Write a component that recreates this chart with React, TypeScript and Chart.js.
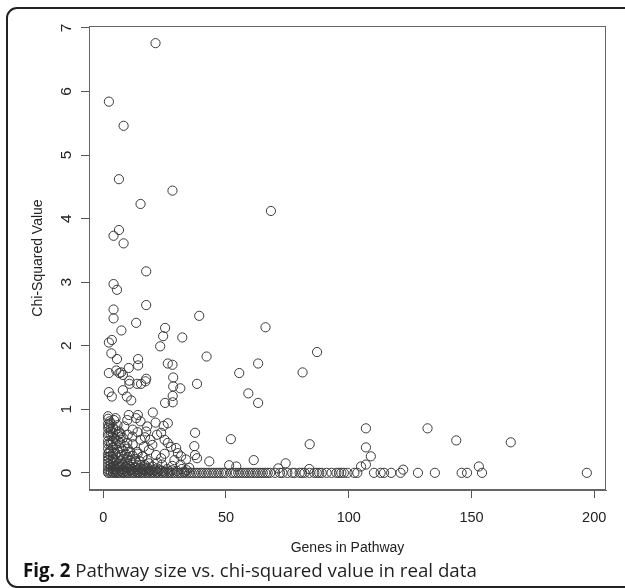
import React, { useEffect, useRef } from "react";
import { Chart, registerables } from "chart.js";

Chart.register(...registerables);

// [genes in pathway, chi-squared value]
const upperPoints: [number, number][] = [
  [21.3, 6.76], [2.3, 5.84], [8.3, 5.46], [6.4, 4.62], [28.2, 4.44], [15.2, 4.23], [68.3, 4.12],
  [6.4, 3.82], [4.2, 3.73], [8.3, 3.61], [17.5, 3.17], [4.2, 2.97], [5.6, 2.88], [4.2, 2.57],
  [17.5, 2.64], [4.2, 2.43], [39.1, 2.47], [13.4, 2.36], [66.1, 2.29], [25.2, 2.28], [7.4, 2.24],
  [24.4, 2.15], [32.2, 2.13], [3.5, 2.09], [2.3, 2.05], [23.2, 1.99], [87.1, 1.9], [3.3, 1.88],
  [42.1, 1.83], [5.6, 1.79], [14.2, 1.79], [26.3, 1.72], [63.1, 1.72], [28.2, 1.7], [14.2, 1.69],
  [10.4, 1.65], [5.3, 1.61], [81.2, 1.58], [7.3, 1.58], [2.3, 1.57], [55.4, 1.57], [8, 1.54],
  [28.5, 1.5], [17.5, 1.48], [10.6, 1.45], [17.2, 1.44], [10.7, 1.4], [13.8, 1.4], [15.4, 1.4],
  [38.2, 1.4], [28.5, 1.36], [31.4, 1.33], [8, 1.3], [2.3, 1.27], [59.1, 1.25], [28.3, 1.21],
  [3.5, 1.2], [9.6, 1.2], [11.4, 1.14], [25.2, 1.1], [28.3, 1.11], [63.1, 1.1], [6.6, 1.57],
];

const sparsePoints: [number, number][] = [
  [107, 0.7], [132.1, 0.7], [143.8, 0.51], [166, 0.48], [84.1, 0.45], [107, 0.4], [109, 0.26],
  [61.3, 0.2], [74.3, 0.15], [37.4, 0.63], [52, 0.53], [37.1, 0.42], [37.4, 0.28], [38.2, 0.23],
  [43.2, 0.18], [153, 0.1], [105, 0.1], [107, 0.13], [122.2, 0.05], [71.3, 0.07], [83.9, 0.06],
  [51.3, 0.12], [54.2, 0.1],
];

const clusterPoints: [number, number][] = [
  [20.2, 0.95], [14.1, 0.91], [13.4, 0.86], [21.3, 0.79], [26.3, 0.78], [24.6, 0.74], [17.5, 0.65],
  [12, 0.68], [8.6, 0.73], [15.2, 0.52], [19.2, 0.52], [21.9, 0.6], [26.3, 0.47], [27.6, 0.41],
  [29.7, 0.39], [30.4, 0.31], [31.7, 0.26], [33.7, 0.21], [21.5, 0.28], [23.6, 0.23], [16.5, 0.41],
  [13.8, 0.33], [9.8, 0.47], [7.1, 0.39], [11.9, 0.57], [7.1, 0.57], [4.4, 0.55], [3.1, 0.44],
  [2.4, 0.33], [3.8, 0.21], [2, 0.89], [2.6, 0.81], [2.2, 0.73], [3, 0.65], [4.4, 0.83], [5.8, 0.75],
  [6.4, 0.65], [9.8, 0.83], [10.4, 0.91], [15.2, 0.81], [17.9, 0.73], [23.6, 0.63], [25, 0.52],
  [18.6, 0.36], [16, 0.26], [13.3, 0.18], [9.8, 0.21], [7.8, 0.15], [18.6, 0.15], [24, 0.13],
  [28.1, 0.11], [31.5, 0.13], [16.5, 0.1], [21.9, 0.07],
  [2, 0.02], [2, 0.05], [2, 0.1], [2, 0.15], [2, 0.2], [2, 0.25], [2, 0.3], [2, 0.38], [2, 0.45],
  [2, 0.5], [2, 0.58], [2, 0.62], [2, 0.7], [2, 0.77], [2, 0.85], [3, 0.03], [3, 0.08], [3, 0.12],
  [3, 0.18], [3, 0.27], [3, 0.35], [3, 0.48], [3, 0.6], [3, 0.69], [3, 0.78], [4, 0.02], [4, 0.06],
  [4, 0.1], [4, 0.16], [4, 0.25], [4, 0.31], [4, 0.4], [4, 0.5], [4, 0.62], [4, 0.71], [5, 0.01],
  [5, 0.05], [5, 0.11], [5, 0.2], [5, 0.3], [5, 0.45], [5, 0.53], [5, 0.67], [5, 0.86], [6, 0.02],
  [6, 0.08], [6, 0.14], [6, 0.24], [6, 0.33], [6, 0.5], [6, 0.6], [7, 0.03], [7, 0.1], [7, 0.18],
  [7, 0.28], [7, 0.47], [7, 0.62], [8, 0.01], [8, 0.05], [8, 0.12], [8, 0.22], [8, 0.35], [8, 0.55],
  [9, 0.03], [9, 0.09], [9, 0.17], [9, 0.3], [9, 0.42], [10, 0.02], [10, 0.07], [10, 0.14],
  [10, 0.25], [10, 0.38], [10, 0.6], [11, 0.04], [11, 0.1], [11, 0.2], [11, 0.33], [12, 0.02],
  [12, 0.06], [12, 0.16], [12, 0.27], [12, 0.45], [13, 0.03], [13, 0.09], [13, 0.22], [14, 0.01],
  [14, 0.05], [14, 0.12], [14, 0.3], [14, 0.64], [15, 0.03], [15, 0.08], [15, 0.18], [16, 0.02],
  [16, 0.06], [16, 0.26], [17, 0.04], [17, 0.12], [17, 0.56], [18, 0.02], [18, 0.08], [18, 0.2],
  [19, 0.03], [19, 0.05], [20, 0.02], [20, 0.1], [20, 0.44], [21, 0.04], [22, 0.02], [22, 0.16],
  [23, 0.05], [24, 0.03], [25, 0.02], [25, 0.3], [26, 0.06], [27, 0.02], [28, 0.04], [29, 0.2],
  [30, 0.03], [32, 0.06], [33, 0.02], [34, 0.04], [35, 0.08],
];

const zeroRowGenes: number[] = [
  2, 3, 4, 5, 6, 7, 8, 9, 10, 11, 12, 13, 14, 15, 16, 17, 18, 19, 20, 21, 22, 23, 24, 25, 26, 27,
  28, 29, 30, 31, 32, 33, 34, 35, 36, 37, 38, 39, 40, 41, 42, 43, 44, 45, 46, 47, 48, 49, 50, 52,
  53, 54, 55, 56, 57, 58, 59, 60, 61, 62, 63, 64, 65, 66, 67, 68, 70, 72, 73, 75, 77, 78, 80, 81,
  82, 84, 86, 87, 88, 89, 91, 93, 95, 96, 97, 98, 99.5, 102.3, 103.5, 110.3, 113, 114.4, 117.3,
  121.1, 128.2, 135.1, 146, 148.2, 154.3, 197,
];
const zeroRowChi: number[] = zeroRowGenes.map(() => 0);

const xTicks = [0, 50, 100, 150, 200];
const yTicks = [0, 1, 2, 3, 4, 5, 6, 7];

const FONT = "'Liberation Sans', Arial, sans-serif";

const boxPlugin = {
  id: "plotBox",
  afterDraw(chart: any) {
    const { ctx, chartArea: a } = chart;
    ctx.save();
    ctx.strokeStyle = "#666";
    ctx.lineWidth = 1;
    ctx.strokeRect(a.left + 0.5, a.top + 0.5, a.right - a.left - 1, a.bottom - a.top - 1);
    ctx.restore();
  },
};

export default function App() {
  const ref = useRef<HTMLCanvasElement>(null);

  useEffect(() => {
    document.body.style.margin = "0";
    const pts = [
      ...upperPoints,
      ...sparsePoints,
      ...clusterPoints,
      ...zeroRowGenes.map((g, i) => [g, zeroRowChi[i]] as [number, number]),
    ].map(([x, y]) => ({ x, y }));

    const chart = new Chart(ref.current!, {
      type: "scatter",
      data: {
        datasets: [
          {
            data: pts,
            pointStyle: "circle",
            pointRadius: 4.6,
            pointBorderWidth: 1,
            pointBorderColor: "#3a3a3a",
            pointBackgroundColor: "rgba(0,0,0,0)",
          },
        ],
      },
      options: {
        animation: false,
        responsive: false,
        events: [],
        layout: { padding: { top: 26, right: 19, left: 0, bottom: 0 } },
        plugins: { legend: { display: false }, tooltip: { enabled: false } },
        scales: {
          x: {
            type: "linear",
            min: -5.8,
            max: 204.8,
            afterBuildTicks: (s: any) => {
              s.ticks = xTicks.map((v) => ({ value: v }));
            },
            afterFit: (s: any) => {
              s.height = 98;
            },
            grid: { drawOnChartArea: false, drawTicks: true, tickLength: 8, color: "#555" },
            border: { display: true, color: "#666" },
            ticks: { padding: 11, color: "#222", font: { family: FONT, size: 14.5 }, maxRotation: 0 },
            title: {
              display: true,
              text: "Genes in Pathway",
              color: "#222",
              font: { family: FONT, size: 14 },
              padding: { top: 0, bottom: 31 },
            },
          },
          y: {
            type: "linear",
            min: -0.27,
            max: 7.03,
            afterBuildTicks: (s: any) => {
              s.ticks = yTicks.map((v) => ({ value: v }));
            },
            afterFit: (s: any) => {
              s.width = 89;
            },
            grid: { drawOnChartArea: false, drawTicks: true, tickLength: 8, color: "#555" },
            border: { display: true, color: "#666" },
            ticks: {
              padding: 10,
              color: "#222",
              crossAlign: "center",
              minRotation: 90,
              maxRotation: 90,
              font: { family: FONT, size: 15.5 },
            },
            title: {
              display: true,
              text: "Chi-Squared Value",
              color: "#222",
              font: { family: FONT, size: 14 },
              padding: { top: 30, bottom: 0 },
            },
          },
        },
      },
      plugins: [boxPlugin],
    } as any);
    return () => chart.destroy();
  }, []);

  return (
    <div style={{ position: "relative", width: 625, height: 588, overflow: "hidden", background: "#fff" }}>
      <div
        style={{
          position: "absolute",
          left: 6,
          top: 7,
          width: 660,
          height: 581,
          border: "2px solid #222",
          borderRadius: 11,
          boxSizing: "border-box",
        }}
      />
      <canvas ref={ref} width={625} height={588} style={{ position: "absolute", left: 0, top: 0 }} />
      <div
        style={{
          position: "absolute",
          left: 23,
          top: 561,
          fontFamily: "'Open Sans', sans-serif",
          fontSize: 18.7,
          lineHeight: "18px",
          color: "#231f20",
          whiteSpace: "nowrap",
        }}
      >
        <b style={{ color: "#111" }}>Fig. 2</b> Pathway size vs. chi-squared value in real data
      </div>
    </div>
  );
}
